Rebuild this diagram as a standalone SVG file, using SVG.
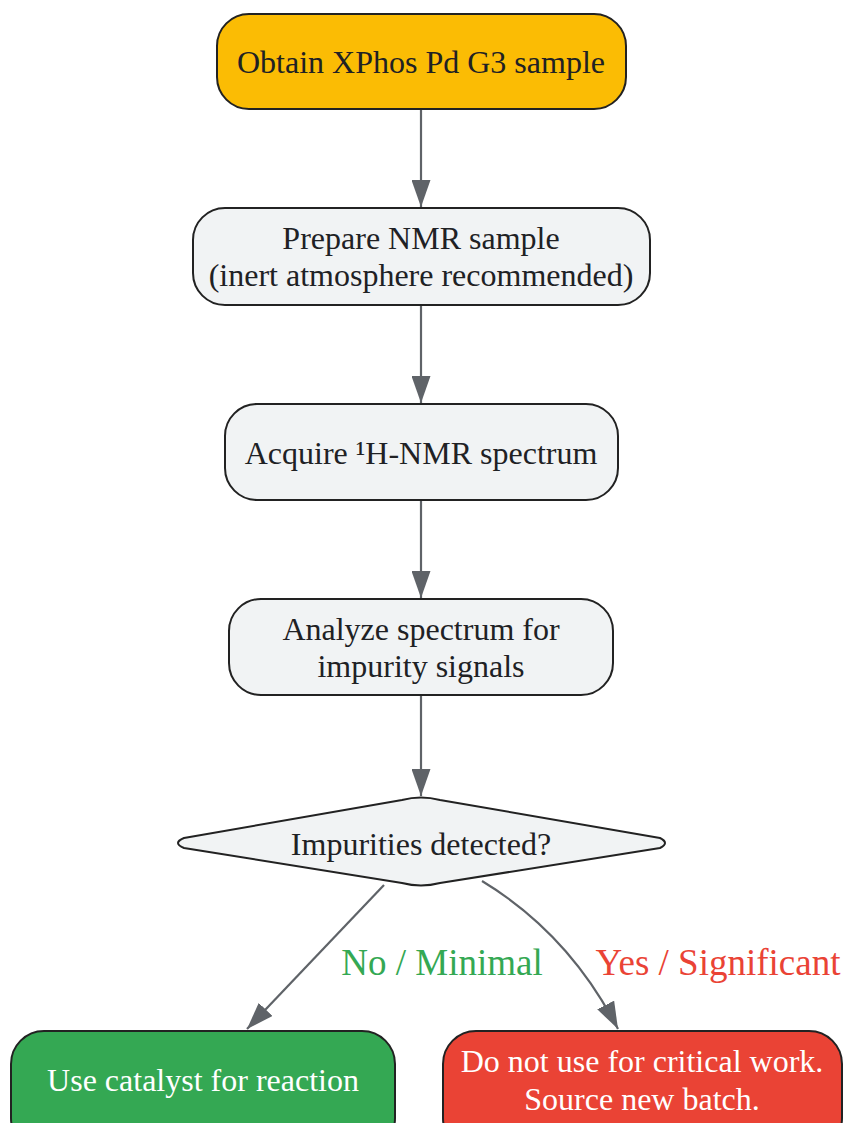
<svg xmlns="http://www.w3.org/2000/svg" width="845" height="1123" viewBox="0 0 845 1123">
<defs>
<style>
.node{stroke:#222222;stroke-width:2}
.gray{fill:#f1f3f4}
.t{font-family:"Liberation Serif","Times New Roman",serif;font-size:32px;fill:#202124;text-anchor:middle}
.w{fill:#ffffff}
.edge{fill:none;stroke:#5f6368;stroke-width:2.2}
.lbl{font-family:"Liberation Serif","Times New Roman",serif;font-size:37px;text-anchor:middle}
</style>
<marker id="ah" viewBox="0 0 27 19" refX="27" refY="9.5" markerWidth="27" markerHeight="19" markerUnits="userSpaceOnUse" orient="auto">
<path d="M0,0 L27,9.5 L0,19 Z" fill="#5f6368"/>
</marker>
</defs>
<rect width="845" height="1123" fill="#ffffff"/>
<g id="connectors">
<path class="edge" d="M421,110 L421,207" marker-end="url(#ah)"/>
<path class="edge" d="M421,306 L421,403" marker-end="url(#ah)"/>
<path class="edge" d="M421,501 L421,598" marker-end="url(#ah)"/>
<path class="edge" d="M421,696 L421,796" marker-end="url(#ah)"/>
<path class="edge" d="M384,885 L247,1029" marker-end="url(#ah)"/>
<path class="edge" d="M482,881 C530,910 580,955 618,1029" marker-end="url(#ah)"/>
<text class="lbl" x="442" y="975" fill="#34a853">No / Minimal</text>
<text class="lbl" x="718" y="975" fill="#ea4335">Yes / Significant</text>
</g>
<g id="n1">
<rect class="node" x="217" y="14" width="409" height="95" rx="32" fill="#fbbc04"/>
<text class="t" x="421" y="73">Obtain XPhos Pd G3 sample</text>
</g>
<g id="n2">
<rect class="node gray" x="193" y="208" width="457" height="97" rx="32"/>
<text class="t" x="421" y="249">Prepare NMR sample</text>
<text class="t" x="421" y="286">(inert atmosphere recommended)</text>
</g>
<g id="n3">
<rect class="node gray" x="225" y="404" width="393" height="96" rx="32"/>
<text class="t" x="421" y="464">Acquire ¹H-NMR spectrum</text>
</g>
<g id="n4">
<rect class="node gray" x="229" y="599" width="384" height="96" rx="32"/>
<text class="t" x="421" y="640">Analyze spectrum for</text>
<text class="t" x="421" y="677">impurity signals</text>
</g>
<g id="n5">
<path class="node gray" stroke-linejoin="round" d="M402,800 Q421,795 440,800 L660,838 Q670,843 660,848 L440,883 Q421,888 402,883 L184,848 Q172,843 184,838 Z"/>
<text class="t" x="421" y="855">Impurities detected?</text>
</g>
<g id="n6">
<rect class="node" x="11" y="1031" width="384" height="120" rx="33" fill="#34a853"/>
<text class="t w" x="203" y="1091">Use catalyst for reaction</text>
</g>
<g id="n7">
<rect class="node" x="443" y="1031" width="399" height="120" rx="33" fill="#ea4335"/>
<text class="t w" x="642" y="1072">Do not use for critical work.</text>
<text class="t w" x="642" y="1110">Source new batch.</text>
</g>
</svg>
